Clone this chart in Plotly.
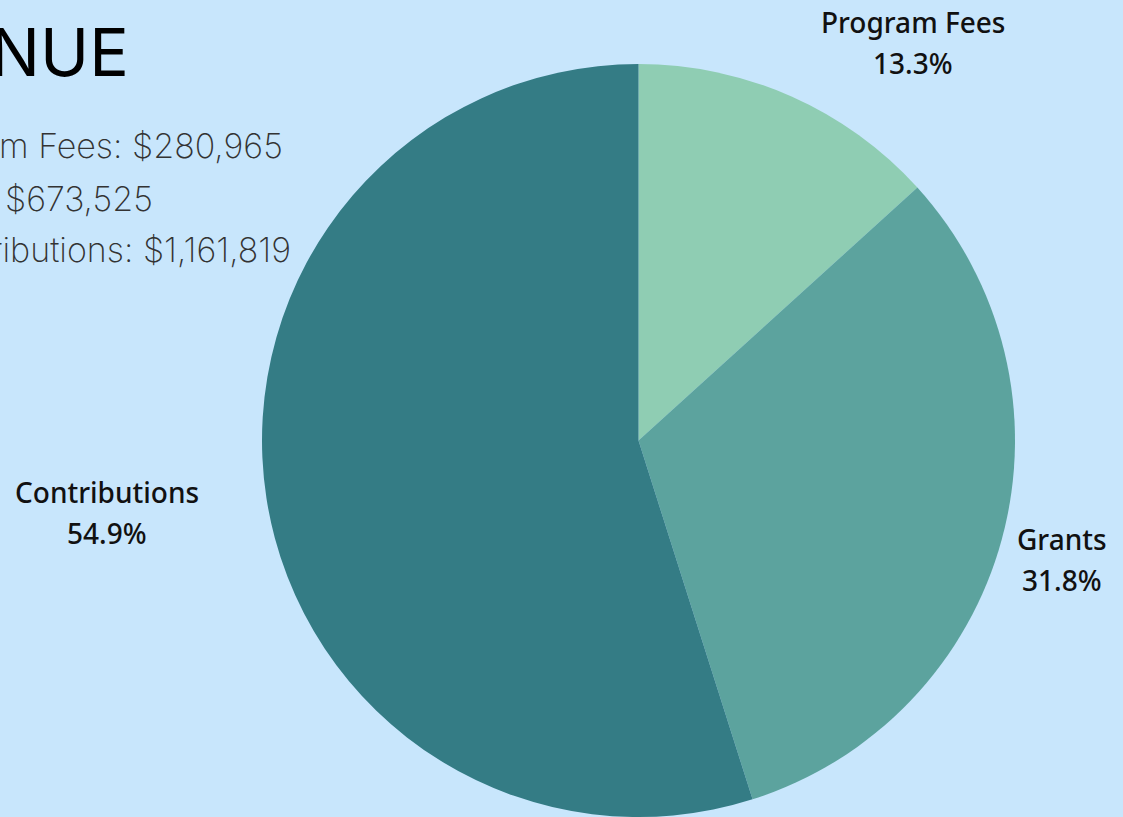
import plotly.graph_objects as go

categories = ["Program Fees", "Grants", "Contributions"]
values = [280965, 673525, 1161819]
colors = ["#8FCDB3", "#5CA39E", "#347C85"]
title_text = "REVENUE"

W, H = 1123, 817

# label annotation anchors (pixels: x centre, y of name line, y of percent line)
label_pos = {"Program Fees": (913, 22, 63),
             "Grants": (1062, 539, 580),
             "Contributions": (107, 492, 533)}
summary_end_x = [285, 155, 293]
summary_y = [146, 198, 249]

total = sum(values)

fig = go.Figure(go.Pie(
    labels=categories, values=values, sort=False, direction="clockwise",
    rotation=0, textinfo="none", hoverinfo="label+percent",
    marker=dict(colors=colors, line=dict(width=0)),
    domain=dict(x=[262 / W, 1015 / W], y=[0, (H - 64) / H]),
    showlegend=False,
))

label_font = dict(family="Noto Sans, Roboto, sans-serif", size=28, color="#111111", weight=500)
annotations = []
for cat, v in zip(categories, values):
    px, py1, py2 = label_pos[cat]
    annotations.append(dict(
        x=px / W, y=1 - py1 / H, xref="paper", yref="paper", xanchor="center", yanchor="middle",
        text=cat, showarrow=False, font=label_font,
    ))
    annotations.append(dict(
        x=px / W, y=1 - py2 / H, xref="paper", yref="paper", xanchor="center", yanchor="middle",
        text=f"{100 * v / total:.1f}%", showarrow=False, font=label_font,
    ))

annotations.append(dict(
    x=131 / W, y=1 - 52 / H, xref="paper", yref="paper", xanchor="right", yanchor="middle",
    text=title_text, showarrow=False,
    font=dict(family="Inter, Roboto, sans-serif", size=66, color="#000000", weight=400),
))

for cat, v, ex, yy in zip(categories, values, summary_end_x, summary_y):
    annotations.append(dict(
        x=ex / W, y=1 - yy / H, xref="paper", yref="paper", xanchor="right", yanchor="middle",
        text=f"{cat}: ${v:,}", showarrow=False,
        font=dict(family="Inter, Lato, sans-serif", size=34, color="#333333", weight=200),
    ))

fig.update_layout(
    width=W, height=H, margin=dict(l=0, r=0, t=0, b=0),
    paper_bgcolor="#C8E6FC", plot_bgcolor="#C8E6FC",
    annotations=annotations,
)

fig.write_html("out.html", config={"displayModeBar": False},
               post_script="document.body.style.margin='0';document.body.style.overflow='hidden';")
